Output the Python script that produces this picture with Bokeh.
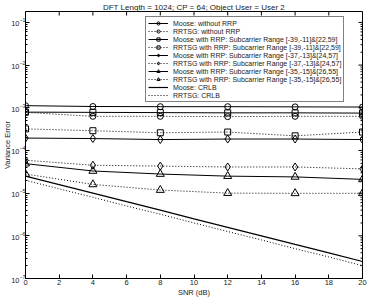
import math
from bokeh.plotting import figure
from bokeh.models import Legend, LegendItem, FixedTicker, Range1d
from bokeh.embed import file_html
from bokeh.resources import INLINE

snr_markers = [0, 4, 8, 12, 16, 20]
moose_norrp = [1.12e-3, 1.07e-3, 1.06e-3, 1.06e-3, 1.05e-3, 1.04e-3]
rrtsg_norrp = [7.8e-4, 6.3e-4, 6.3e-4, 6.2e-4, 6.3e-4, 6.3e-4]
moose_r39 = [7.9e-4, 7.8e-4, 7.7e-4, 7.6e-4, 7.6e-4, 7.5e-4]
rrtsg_r39 = [3.2e-4, 2.9e-4, 2.6e-4, 2.7e-4, 2.2e-4, 2.7e-4]
moose_r37 = [1.95e-4, 1.9e-4, 1.8e-4, 1.85e-4, 1.85e-4, 1.8e-4]
rrtsg_r37 = [5.9e-5, 4.5e-5, 4.3e-5, 4.1e-5, 4.1e-5, 3.7e-5]
moose_r35 = [4.9e-5, 3.3e-5, 2.8e-5, 2.5e-5, 2.4e-5, 2.1e-5]
rrtsg_r35 = [2.8e-5, 1.6e-5, 1.18e-5, 1.0e-5, 9.9e-6, 9.9e-6]

snr_crlb = [0, 2, 4, 6, 8, 10, 12, 14, 16, 18, 20]
moose_crlb = [2.5e-5, 1.58e-5, 1.0e-5, 6.3e-6, 4.0e-6, 2.5e-6, 1.58e-6, 1.0e-6, 6.3e-7, 4.0e-7, 2.5e-7]
rrtsg_crlb = [2.0e-5, 1.26e-5, 8.0e-6, 5.0e-6, 3.2e-6, 2.0e-6, 1.26e-6, 8.0e-7, 5.0e-7, 3.2e-7, 2.0e-7]

labels = [
    "Moose: without RRP",
    "RRTSG: without RRP",
    "Moose with RRP: Subcarrier Range [-39,-11]&[22,59]",
    "RRTSG with RRP: Subcarrier Range [-39,-11]&[22,59]",
    "Moose with RRP: Subcarrier Range [-37,-13]&[24,57]",
    "RRTSG with RRP: Subcarrier Range [-37,-13]&[24,57]",
    "Moose with RRP: Subcarrier Range [-35,-15]&[26,55]",
    "RRTSG with RRP: Subcarrier Range [-35,-15]&[26,55]",
    "Moose: CRLB",
    "RRTSG: CRLB",
]

x_ticks = [0, 2, 4, 6, 8, 10, 12, 14, 16, 18, 20]
y_major = [1e-7, 1e-6, 1e-5, 1e-4, 1e-3, 1e-2, 1e-1]
y_minor = [m * d for d in y_major for m in range(2, 10) if m * d < 0.18]
X_MIN, X_MAX, Y_MIN, Y_MAX = 0, 20, 1e-7, 0.18

FONT = "Liberation Sans"
TXT = "#222222"
p = figure(width=368, height=299, output_backend="svg", toolbar_location=None,
           y_axis_type="log", x_range=Range1d(X_MIN, X_MAX), y_range=Range1d(Y_MIN, Y_MAX),
           title="DFT Length = 1024; CP = 64; Object User = User 2")
p.min_border_left = 0
p.min_border_right = 6
p.min_border_top = 0
p.min_border_bottom = 0
p.title.align = "center"
p.title.text_font = FONT
p.title.text_font_size = "8px"
p.title.text_font_style = "normal"
p.title.text_color = TXT
p.title.standoff = 0
p.title.offset = 0
p.xgrid.visible = False
p.ygrid.visible = False
p.outline_line_color = "black"
p.background_fill_color = "white"

for ax in [p.xaxis[0], p.yaxis[0]]:
    ax.major_tick_in = 4
    ax.major_tick_out = 0
    ax.minor_tick_in = 2
    ax.minor_tick_out = 0
    ax.major_label_text_font = FONT
    ax.major_label_text_font_size = "7.5px"
    ax.major_label_text_color = TXT
    ax.axis_label_text_font = FONT
    ax.axis_label_text_font_size = "7.5px"
    ax.axis_label_text_font_style = "normal"
    ax.axis_label_text_color = TXT
    ax.major_label_standoff = 1
    ax.axis_label_standoff = 0
    ax.axis_line_color = "black"
p.yaxis.major_label_standoff = 0
p.yaxis.axis_label_standoff = -4
p.xaxis.ticker = FixedTicker(ticks=x_ticks)
p.xaxis.minor_tick_line_color = None
p.xaxis.axis_label = "SNR (dB)"
p.yaxis.axis_label = "Variance Error"

# mirrored tick marks on the top and right edges (clipped to the frame)
p.scatter(x_ticks, [Y_MAX] * len(x_ticks), marker="dash", angle=math.pi / 2,
          size=8, line_color="black", line_width=1)
p.scatter([X_MAX] * len(y_major), y_major, marker="dash", size=8,
          line_color="black", line_width=1)
p.scatter([X_MAX] * len(y_minor), y_minor, marker="dash", size=4,
          line_color="black", line_width=1)

series = [
    (moose_norrp, "circle", "solid"),
    (rrtsg_norrp, "circle", "1 2"),
    (moose_r39, "square", "solid"),
    (rrtsg_r39, "square", "1 2"),
    (moose_r37, "diamond", "solid"),
    (rrtsg_r37, "diamond", "1 2"),
    (moose_r35, "triangle", "solid"),
    (rrtsg_r35, "triangle", "1 2"),
]
items = []
for (vals, mk, dash), lab in zip(series, labels[:8]):
    r1 = p.line(snr_markers, vals, line_color="black", line_width=1, line_dash=dash)
    sz = 8 if mk in ("diamond", "triangle") else 6
    r2 = p.scatter(snr_markers, vals, marker=mk, size=sz, line_color="black",
                   fill_color=None, line_width=1)
    items.append(LegendItem(label=lab, renderers=[r1, r2]))
r1 = p.line(snr_crlb, moose_crlb, line_color="black", line_width=1.2)
items.append(LegendItem(label=labels[8], renderers=[r1]))
r2 = p.line(snr_crlb, rrtsg_crlb, line_color="black", line_width=1, line_dash="1 2")
items.append(LegendItem(label=labels[9], renderers=[r2]))

leg = Legend(items=items, location=(120, 176))
leg.label_text_font = FONT
leg.label_text_font_size = "7px"
leg.label_text_color = TXT
leg.label_height = 8
leg.glyph_height = 8
leg.glyph_width = 20
leg.spacing = 0
leg.padding = 2
leg.margin = 0
leg.label_standoff = 5
leg.border_line_color = "black"
leg.background_fill_alpha = 1
p.add_layout(leg, "center")

open("out.html", "w").write(file_html(p, INLINE))
